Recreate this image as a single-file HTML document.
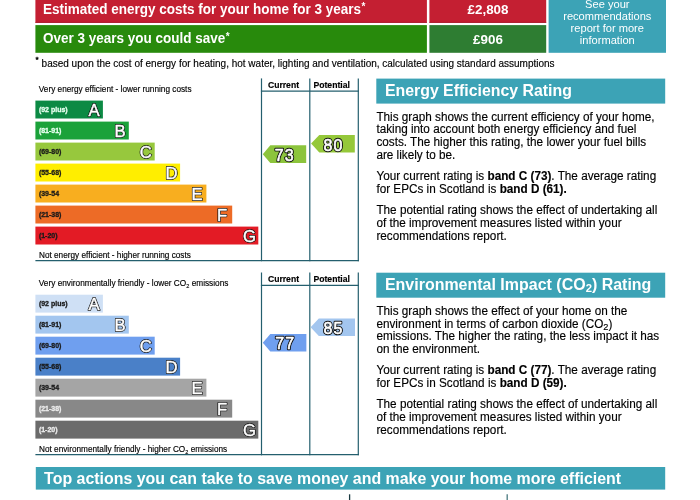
<!DOCTYPE html>
<html><head><meta charset="utf-8">
<style>
html,body{margin:0;padding:0;background:#fff;width:700px;height:500px;overflow:hidden;}
body{position:relative;font-family:"Liberation Sans",sans-serif;}
</style></head><body>
<svg width="700" height="500" viewBox="0 0 700 500" font-family="Liberation Sans" style="position:absolute;left:0;top:0;will-change:transform">
<rect x="35.4" y="-5" width="391.5" height="27.8" fill="#c41f32"/>
<rect x="429.4" y="-5" width="116.8" height="27.8" fill="#c41f32"/>
<rect x="35.4" y="25.1" width="391.5" height="27.7" fill="#288a0c"/>
<rect x="429.4" y="25.1" width="116.8" height="27.7" fill="#2e7d32"/>
<rect x="548.6" y="-5" width="117.4" height="57.8" fill="#3ca3b6"/>
<rect x="35.4" y="21.9" width="391.5" height="0.9" fill="#a81b2c"/>
<rect x="429.4" y="21.9" width="116.8" height="0.9" fill="#a81b2c"/>
<text transform="translate(43 13.5) scale(1 1.0)" font-size="14" fill="#fff" font-weight="bold" textLength="318" lengthAdjust="spacingAndGlyphs" >Estimated energy costs for your home for 3 years</text>
<text transform="translate(361.6 10.3) scale(1 1.0)" font-size="10" fill="#fff" font-weight="bold" >*</text>
<text transform="translate(43 43.3) scale(1 1.0)" font-size="14" fill="#fff" font-weight="bold" textLength="182.3" lengthAdjust="spacingAndGlyphs" >Over 3 years you could save</text>
<text transform="translate(225.8 40.3) scale(1 1.0)" font-size="10" fill="#fff" font-weight="bold" >*</text>
<text transform="translate(488 13.8) scale(1 1.02)" font-size="13.4" fill="#fff" font-weight="bold" text-anchor="middle">£2,808</text>
<text transform="translate(488 43.5) scale(1 1.02)" font-size="13.4" fill="#fff" font-weight="bold" text-anchor="middle">£906</text>
<text transform="translate(607.3 7.9) scale(1 1.0)" font-size="11.1" fill="#fff" text-anchor="middle">See your</text>
<text transform="translate(607.3 20.0) scale(1 1.0)" font-size="11.1" fill="#fff" text-anchor="middle">recommendations</text>
<text transform="translate(607.3 32.1) scale(1 1.0)" font-size="11.1" fill="#fff" text-anchor="middle">report for more</text>
<text transform="translate(607.3 44.2) scale(1 1.0)" font-size="11.1" fill="#fff" text-anchor="middle">information</text>
<text transform="translate(35.5 62.1) scale(1 1)" font-size="8" fill="#000" stroke="#000" stroke-width="0.4">*</text>
<text transform="translate(41.6 66.8) scale(1 1.07)" font-size="10" fill="#000" textLength="513" lengthAdjust="spacingAndGlyphs" stroke="#000" stroke-width="0.15">based upon the cost of energy for heating, hot water, lighting and ventilation, calculated using standard assumptions</text>
<g transform="translate(0,0)">
<line x1="261.5" y1="78.4" x2="261.5" y2="261.2" stroke="#245f6e" stroke-width="1.2"/>
<line x1="309.8" y1="78.4" x2="309.8" y2="261.2" stroke="#245f6e" stroke-width="1.2"/>
<line x1="358.3" y1="78.4" x2="358.3" y2="261.2" stroke="#245f6e" stroke-width="1.2"/>
<line x1="260.9" y1="91.2" x2="358.9" y2="91.2" stroke="#245f6e" stroke-width="1.2"/>
<line x1="35.4" y1="260.6" x2="358.9" y2="260.6" stroke="#245f6e" stroke-width="1.2"/>
<text transform="translate(268 87.7) scale(1 1.07)" font-size="8.6" fill="#000" font-weight="bold" textLength="31" lengthAdjust="spacingAndGlyphs" stroke="#000" stroke-width="0.15">Current</text>
<text transform="translate(313.4 87.7) scale(1 1.07)" font-size="8.6" fill="#000" font-weight="bold" textLength="36.6" lengthAdjust="spacingAndGlyphs" stroke="#000" stroke-width="0.15">Potential</text>
<text transform="translate(38.8 91.8) scale(1 1.07)" font-size="8.2" fill="#000" textLength="152.7" lengthAdjust="spacingAndGlyphs" stroke="#000" stroke-width="0.15">Very energy efficient - lower running costs</text>
<text transform="translate(39 257.9) scale(1 1.07)" font-size="8.2" fill="#000" textLength="151.8" lengthAdjust="spacingAndGlyphs" stroke="#000" stroke-width="0.15">Not energy efficient - higher running costs</text>
<rect x="35.4" y="100.6" width="67.5" height="17.9" fill="#0c8a44"/>
<text transform="translate(38.9 112.0) scale(1 1.05)" font-size="7" fill="#e8fff0" font-weight="bold" stroke="#e8fff0" stroke-width="0.3">(92 plus)</text>
<text transform="translate(94.0 116.2) scale(1 1.0)" font-size="16.7" fill="#fff" stroke="#111" stroke-width="1.9" stroke-linejoin="round" text-anchor="middle">A</text><text transform="translate(94.0 116.2) scale(1 1.0)" font-size="16.7" fill="#fff" stroke="#fff" stroke-width="0.45" stroke-linejoin="round" text-anchor="middle">A</text>
<rect x="35.4" y="121.6" width="93.4" height="17.9" fill="#1ba23a"/>
<text transform="translate(38.9 133.0) scale(1 1.05)" font-size="7" fill="#e8fff0" font-weight="bold" stroke="#e8fff0" stroke-width="0.3">(81-91)</text>
<text transform="translate(120.0 137.2) scale(1 1.0)" font-size="16.7" fill="#fff" stroke="#111" stroke-width="1.9" stroke-linejoin="round" text-anchor="middle">B</text><text transform="translate(120.0 137.2) scale(1 1.0)" font-size="16.7" fill="#fff" stroke="#fff" stroke-width="0.45" stroke-linejoin="round" text-anchor="middle">B</text>
<rect x="35.4" y="142.6" width="119.3" height="17.9" fill="#97c83d"/>
<text transform="translate(38.9 154.0) scale(1 1.05)" font-size="7" fill="#1a1a1a" font-weight="bold" stroke="#1a1a1a" stroke-width="0.3">(69-80)</text>
<text transform="translate(145.8 158.2) scale(1 1.0)" font-size="16.7" fill="#fff" stroke="#111" stroke-width="1.9" stroke-linejoin="round" text-anchor="middle">C</text><text transform="translate(145.8 158.2) scale(1 1.0)" font-size="16.7" fill="#fff" stroke="#fff" stroke-width="0.45" stroke-linejoin="round" text-anchor="middle">C</text>
<rect x="35.4" y="163.6" width="144.7" height="17.9" fill="#ffee00"/>
<text transform="translate(38.9 175.0) scale(1 1.05)" font-size="7" fill="#1a1a1a" font-weight="bold" stroke="#1a1a1a" stroke-width="0.3">(55-68)</text>
<text transform="translate(171.5 179.2) scale(1 1.0)" font-size="16.7" fill="#fff" stroke="#111" stroke-width="1.9" stroke-linejoin="round" text-anchor="middle">D</text><text transform="translate(171.5 179.2) scale(1 1.0)" font-size="16.7" fill="#fff" stroke="#fff" stroke-width="0.45" stroke-linejoin="round" text-anchor="middle">D</text>
<rect x="35.4" y="184.6" width="171.0" height="17.9" fill="#f8ae1f"/>
<text transform="translate(38.9 196.0) scale(1 1.05)" font-size="7" fill="#1a1a1a" font-weight="bold" stroke="#1a1a1a" stroke-width="0.3">(39-54</text>
<text transform="translate(197.0 200.2) scale(1 1.0)" font-size="16.7" fill="#fff" stroke="#111" stroke-width="1.9" stroke-linejoin="round" text-anchor="middle">E</text><text transform="translate(197.0 200.2) scale(1 1.0)" font-size="16.7" fill="#fff" stroke="#fff" stroke-width="0.45" stroke-linejoin="round" text-anchor="middle">E</text>
<rect x="35.4" y="205.6" width="196.8" height="17.9" fill="#ed6b26"/>
<text transform="translate(38.9 217.0) scale(1 1.05)" font-size="7" fill="#1a1a1a" font-weight="bold" stroke="#1a1a1a" stroke-width="0.3">(21-38)</text>
<text transform="translate(222.2 221.2) scale(1 1.0)" font-size="16.7" fill="#fff" stroke="#111" stroke-width="1.9" stroke-linejoin="round" text-anchor="middle">F</text><text transform="translate(222.2 221.2) scale(1 1.0)" font-size="16.7" fill="#fff" stroke="#fff" stroke-width="0.45" stroke-linejoin="round" text-anchor="middle">F</text>
<rect x="35.4" y="226.6" width="222.9" height="17.9" fill="#e31b25"/>
<text transform="translate(38.9 238.0) scale(1 1.05)" font-size="7" fill="#1a1a1a" font-weight="bold" stroke="#1a1a1a" stroke-width="0.3">(1-20)</text>
<text transform="translate(249.6 242.2) scale(1 1.0)" font-size="16.7" fill="#fff" stroke="#111" stroke-width="1.9" stroke-linejoin="round" text-anchor="middle">G</text><text transform="translate(249.6 242.2) scale(1 1.0)" font-size="16.7" fill="#fff" stroke="#fff" stroke-width="0.45" stroke-linejoin="round" text-anchor="middle">G</text>
</g>
<g transform="translate(0,194.1)">
<line x1="261.5" y1="78.4" x2="261.5" y2="261.2" stroke="#245f6e" stroke-width="1.2"/>
<line x1="309.8" y1="78.4" x2="309.8" y2="261.2" stroke="#245f6e" stroke-width="1.2"/>
<line x1="358.3" y1="78.4" x2="358.3" y2="261.2" stroke="#245f6e" stroke-width="1.2"/>
<line x1="260.9" y1="91.2" x2="358.9" y2="91.2" stroke="#245f6e" stroke-width="1.2"/>
<line x1="35.4" y1="260.6" x2="358.9" y2="260.6" stroke="#245f6e" stroke-width="1.2"/>
<text transform="translate(268 87.7) scale(1 1.07)" font-size="8.6" fill="#000" font-weight="bold" textLength="31" lengthAdjust="spacingAndGlyphs" stroke="#000" stroke-width="0.15">Current</text>
<text transform="translate(313.4 87.7) scale(1 1.07)" font-size="8.6" fill="#000" font-weight="bold" textLength="36.6" lengthAdjust="spacingAndGlyphs" stroke="#000" stroke-width="0.15">Potential</text>
<text transform="translate(38.8 91.8) scale(1 1.07)" font-size="8.2" fill="#000" textLength="189.6" lengthAdjust="spacingAndGlyphs" stroke="#000" stroke-width="0.15">Very environmentally friendly - lower CO<tspan font-size="5.5" dy="2">2</tspan><tspan dy="-2"> emissions</tspan></text>
<text transform="translate(39 257.6) scale(1 1.07)" font-size="8.2" fill="#000" textLength="188.2" lengthAdjust="spacingAndGlyphs" stroke="#000" stroke-width="0.15">Not environmentally friendly - higher CO<tspan font-size="5.5" dy="2">2</tspan><tspan dy="-2"> emissions</tspan></text>
<rect x="35.4" y="100.6" width="67.5" height="17.9" fill="#cfe0f5"/>
<text transform="translate(38.9 112.0) scale(1 1.05)" font-size="7" fill="#1a1a1a" font-weight="bold" stroke="#1a1a1a" stroke-width="0.3">(92 plus)</text>
<text transform="translate(94.0 116.2) scale(1 1.0)" font-size="16.7" fill="#fff" stroke="#111" stroke-width="1.9" stroke-linejoin="round" text-anchor="middle">A</text><text transform="translate(94.0 116.2) scale(1 1.0)" font-size="16.7" fill="#fff" stroke="#fff" stroke-width="0.45" stroke-linejoin="round" text-anchor="middle">A</text>
<rect x="35.4" y="121.6" width="93.4" height="17.9" fill="#a3c6ef"/>
<text transform="translate(38.9 133.0) scale(1 1.05)" font-size="7" fill="#1a1a1a" font-weight="bold" stroke="#1a1a1a" stroke-width="0.3">(81-91)</text>
<text transform="translate(120.0 137.2) scale(1 1.0)" font-size="16.7" fill="#fff" stroke="#111" stroke-width="1.9" stroke-linejoin="round" text-anchor="middle">B</text><text transform="translate(120.0 137.2) scale(1 1.0)" font-size="16.7" fill="#fff" stroke="#fff" stroke-width="0.45" stroke-linejoin="round" text-anchor="middle">B</text>
<rect x="35.4" y="142.6" width="119.3" height="17.9" fill="#6f9fef"/>
<text transform="translate(38.9 154.0) scale(1 1.05)" font-size="7" fill="#1a1a1a" font-weight="bold" stroke="#1a1a1a" stroke-width="0.3">(69-80)</text>
<text transform="translate(145.8 158.2) scale(1 1.0)" font-size="16.7" fill="#fff" stroke="#111" stroke-width="1.9" stroke-linejoin="round" text-anchor="middle">C</text><text transform="translate(145.8 158.2) scale(1 1.0)" font-size="16.7" fill="#fff" stroke="#fff" stroke-width="0.45" stroke-linejoin="round" text-anchor="middle">C</text>
<rect x="35.4" y="163.6" width="144.7" height="17.9" fill="#4a80c8"/>
<text transform="translate(38.9 175.0) scale(1 1.05)" font-size="7" fill="#1a1a1a" font-weight="bold" stroke="#1a1a1a" stroke-width="0.3">(55-68)</text>
<text transform="translate(171.5 179.2) scale(1 1.0)" font-size="16.7" fill="#fff" stroke="#111" stroke-width="1.9" stroke-linejoin="round" text-anchor="middle">D</text><text transform="translate(171.5 179.2) scale(1 1.0)" font-size="16.7" fill="#fff" stroke="#fff" stroke-width="0.45" stroke-linejoin="round" text-anchor="middle">D</text>
<rect x="35.4" y="184.6" width="171.0" height="17.9" fill="#a5a5a5"/>
<text transform="translate(38.9 196.0) scale(1 1.05)" font-size="7" fill="#1a1a1a" font-weight="bold" stroke="#1a1a1a" stroke-width="0.3">(39-54</text>
<text transform="translate(197.0 200.2) scale(1 1.0)" font-size="16.7" fill="#fff" stroke="#111" stroke-width="1.9" stroke-linejoin="round" text-anchor="middle">E</text><text transform="translate(197.0 200.2) scale(1 1.0)" font-size="16.7" fill="#fff" stroke="#fff" stroke-width="0.45" stroke-linejoin="round" text-anchor="middle">E</text>
<rect x="35.4" y="205.6" width="196.8" height="17.9" fill="#888888"/>
<text transform="translate(38.9 217.0) scale(1 1.05)" font-size="7" fill="#ececec" font-weight="bold" stroke="#ececec" stroke-width="0.3">(21-38)</text>
<text transform="translate(222.2 221.2) scale(1 1.0)" font-size="16.7" fill="#fff" stroke="#111" stroke-width="1.9" stroke-linejoin="round" text-anchor="middle">F</text><text transform="translate(222.2 221.2) scale(1 1.0)" font-size="16.7" fill="#fff" stroke="#fff" stroke-width="0.45" stroke-linejoin="round" text-anchor="middle">F</text>
<rect x="35.4" y="226.6" width="222.9" height="17.9" fill="#6b6b6b"/>
<text transform="translate(38.9 238.0) scale(1 1.05)" font-size="7" fill="#ececec" font-weight="bold" stroke="#ececec" stroke-width="0.3">(1-20)</text>
<text transform="translate(249.6 242.2) scale(1 1.0)" font-size="16.7" fill="#fff" stroke="#111" stroke-width="1.9" stroke-linejoin="round" text-anchor="middle">G</text><text transform="translate(249.6 242.2) scale(1 1.0)" font-size="16.7" fill="#fff" stroke="#fff" stroke-width="0.45" stroke-linejoin="round" text-anchor="middle">G</text>
</g>
<path d="M262.8 154.2 L270.3 145.3 L306.2 145.3 L306.2 163.1 L270.3 163.1 Z" fill="#8cc43c"/><text letter-spacing="1.1" transform="translate(274.8 161.4) scale(1 1.06)" font-size="16.0" fill="#fff" stroke="#111" stroke-width="2.5" stroke-linejoin="round" text-anchor="start">73</text><text letter-spacing="1.1" transform="translate(274.8 161.4) scale(1 1.06)" font-size="16.0" fill="#fff" stroke="#fff" stroke-width="0.6" stroke-linejoin="round" text-anchor="start">73</text>
<path d="M311.1 143.6 L319.3 134.9 L354.8 134.9 L354.8 152.4 L319.3 152.4 Z" fill="#95c83a"/><text letter-spacing="1.1" transform="translate(323.5 151.0) scale(1 1.06)" font-size="16.0" fill="#fff" stroke="#111" stroke-width="2.5" stroke-linejoin="round" text-anchor="start">80</text><text letter-spacing="1.1" transform="translate(323.5 151.0) scale(1 1.06)" font-size="16.0" fill="#fff" stroke="#fff" stroke-width="0.6" stroke-linejoin="round" text-anchor="start">80</text>
<path d="M262.8 342.7 L270.3 334 L306.4 334 L306.4 351.4 L270.3 351.4 Z" fill="#6f9fef"/><text letter-spacing="1.1" transform="translate(275.3 349.4) scale(1 1.06)" font-size="16.0" fill="#fff" stroke="#111" stroke-width="2.5" stroke-linejoin="round" text-anchor="start">77</text><text letter-spacing="1.1" transform="translate(275.3 349.4) scale(1 1.06)" font-size="16.0" fill="#fff" stroke="#fff" stroke-width="0.6" stroke-linejoin="round" text-anchor="start">77</text>
<path d="M310.6 327.2 L318.8 318.4 L355 318.4 L355 336 L318.8 336 Z" fill="#a3c6ef"/><text letter-spacing="1.1" transform="translate(323.6 333.9) scale(1 1.06)" font-size="16.0" fill="#fff" stroke="#111" stroke-width="2.5" stroke-linejoin="round" text-anchor="start">85</text><text letter-spacing="1.1" transform="translate(323.6 333.9) scale(1 1.06)" font-size="16.0" fill="#fff" stroke="#fff" stroke-width="0.6" stroke-linejoin="round" text-anchor="start">85</text>
<rect x="376.3" y="78.6" width="288.9" height="25" fill="#3ca3b6"/>
<text transform="translate(384.9 95.6) scale(1 1.07)" font-size="15.6" fill="#fff" font-weight="bold" textLength="187" lengthAdjust="spacingAndGlyphs" >Energy Efficiency Rating</text>
<rect x="376.3" y="272.7" width="288.9" height="25" fill="#3ca3b6"/>
<text transform="translate(384.9 289.6) scale(1 1.07)" font-size="15.6" fill="#fff" font-weight="bold" textLength="266.5" lengthAdjust="spacingAndGlyphs" >Environmental Impact (CO<tspan font-size="11" dy="2.4">2</tspan><tspan dy="-2.4">) Rating</tspan></text>
<rect x="35.8" y="467" width="629.4" height="22.6" fill="#3ca3b6"/>
<text transform="translate(44.1 484) scale(1 1.05)" font-size="15.9" fill="#fff" font-weight="bold" textLength="577" lengthAdjust="spacingAndGlyphs" >Top actions you can take to save money and make your home more efficient</text>
<text transform="translate(376.4 120.6) scale(1 1.04)" font-size="11.75" fill="#000" stroke="#000" stroke-width="0.15">This graph shows the current efficiency of your home,</text>
<text transform="translate(376.4 133.35) scale(1 1.04)" font-size="11.75" fill="#000" stroke="#000" stroke-width="0.15">taking into account both energy efficiency and fuel</text>
<text transform="translate(376.4 146.1) scale(1 1.04)" font-size="11.75" fill="#000" stroke="#000" stroke-width="0.15">costs. The higher this rating, the lower your fuel bills</text>
<text transform="translate(376.4 158.85) scale(1 1.04)" font-size="11.75" fill="#000" stroke="#000" stroke-width="0.15">are likely to be.</text>
<text transform="translate(376.4 180.1) scale(1 1.04)" font-size="11.75" fill="#000" stroke="#000" stroke-width="0.15">Your current rating is <tspan font-weight="bold">band C (73)</tspan>. The average rating</text>
<text transform="translate(376.4 192.85) scale(1 1.04)" font-size="11.75" fill="#000" stroke="#000" stroke-width="0.15">for EPCs in Scotland is <tspan font-weight="bold">band D (61).</tspan></text>
<text transform="translate(376.4 214.1) scale(1 1.04)" font-size="11.75" fill="#000" stroke="#000" stroke-width="0.15">The potential rating shows the effect of undertaking all</text>
<text transform="translate(376.4 226.85) scale(1 1.04)" font-size="11.75" fill="#000" stroke="#000" stroke-width="0.15">of the improvement measures listed within your</text>
<text transform="translate(376.4 239.6) scale(1 1.04)" font-size="11.75" fill="#000" stroke="#000" stroke-width="0.15">recommendations report.</text>
<text transform="translate(376.4 314.9) scale(1 1.04)" font-size="11.75" fill="#000" stroke="#000" stroke-width="0.15">This graph shows the effect of your home on the</text>
<text transform="translate(376.4 327.65) scale(1 1.04)" font-size="11.75" fill="#000" stroke="#000" stroke-width="0.15">environment in terms of carbon dioxide (CO<tspan font-size="9.2" dy="2.5">2</tspan><tspan dy="-2.5">)</tspan></text>
<text transform="translate(376.4 340.4) scale(1 1.04)" font-size="11.75" fill="#000" stroke="#000" stroke-width="0.15">emissions. The higher the rating, the less impact it has</text>
<text transform="translate(376.4 353.15) scale(1 1.04)" font-size="11.75" fill="#000" stroke="#000" stroke-width="0.15">on the environment.</text>
<text transform="translate(376.4 374.4) scale(1 1.04)" font-size="11.75" fill="#000" stroke="#000" stroke-width="0.15">Your current rating is <tspan font-weight="bold">band C (77)</tspan>. The average rating</text>
<text transform="translate(376.4 387.15) scale(1 1.04)" font-size="11.75" fill="#000" stroke="#000" stroke-width="0.15">for EPCs in Scotland is <tspan font-weight="bold">band D (59).</tspan></text>
<text transform="translate(376.4 408.4) scale(1 1.04)" font-size="11.75" fill="#000" stroke="#000" stroke-width="0.15">The potential rating shows the effect of undertaking all</text>
<text transform="translate(376.4 421.15) scale(1 1.04)" font-size="11.75" fill="#000" stroke="#000" stroke-width="0.15">of the improvement measures listed within your</text>
<text transform="translate(376.4 433.9) scale(1 1.04)" font-size="11.75" fill="#000" stroke="#000" stroke-width="0.15">recommendations report.</text>
<line x1="349.6" y1="494.3" x2="349.6" y2="500" stroke="#1a3a40" stroke-width="1.3"/>
<line x1="507.2" y1="494.3" x2="507.2" y2="500" stroke="#4a7a80" stroke-width="1.3"/>
</svg>
</body></html>
